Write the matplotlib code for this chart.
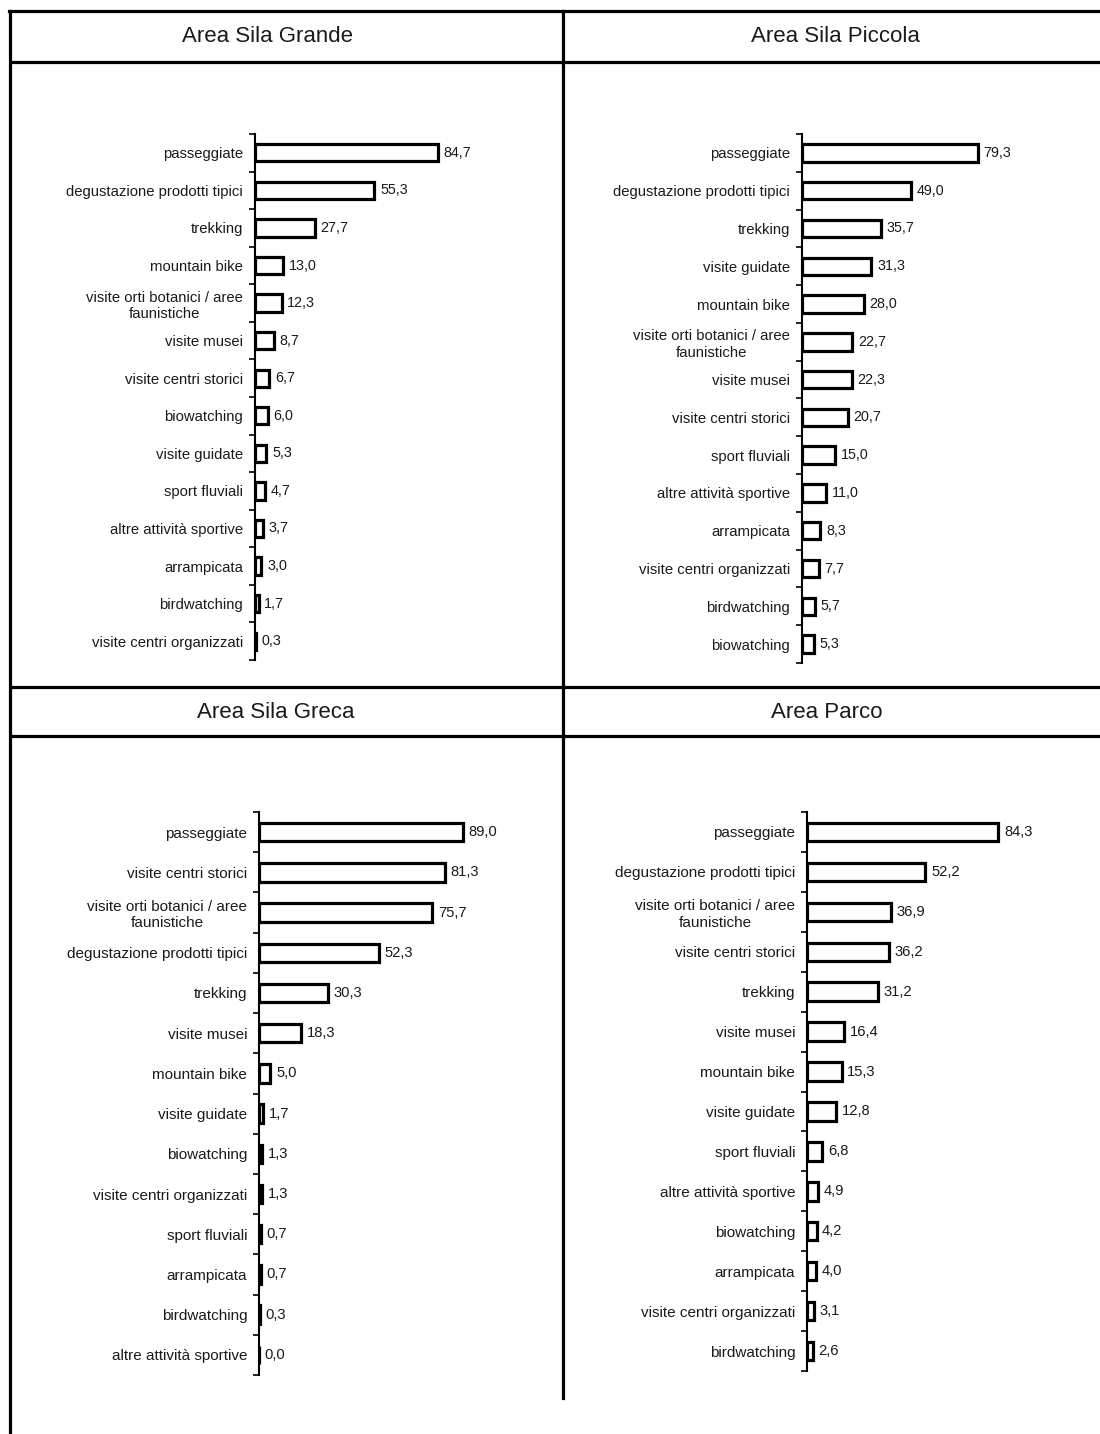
import matplotlib
matplotlib.use("Agg")
import matplotlib.pyplot as plt
import numpy as np

plt.rcParams['font.family'] = ['Liberation Sans', 'DejaVu Sans']

# data
titles = ["Area Sila Grande", "Area Sila Piccola", "Area Sila Greca", "Area Parco"]

orti = "visite orti botanici / aree\nfaunistiche"
degust = "degustazione prodotti tipici"

cats_grande = ["passeggiate", degust, "trekking", "mountain bike", orti,
               "visite musei", "visite centri storici", "biowatching",
               "visite guidate", "sport fluviali", "altre attività sportive",
               "arrampicata", "birdwatching", "visite centri organizzati"]
vals_grande = [84.7, 55.3, 27.7, 13.0, 12.3, 8.7, 6.7, 6.0, 5.3, 4.7, 3.7, 3.0, 1.7, 0.3]

cats_piccola = ["passeggiate", degust, "trekking", "visite guidate", "mountain bike",
                orti, "visite musei", "visite centri storici", "sport fluviali",
                "altre attività sportive", "arrampicata", "visite centri organizzati",
                "birdwatching", "biowatching"]
vals_piccola = [79.3, 49.0, 35.7, 31.3, 28.0, 22.7, 22.3, 20.7, 15.0, 11.0, 8.3, 7.7, 5.7, 5.3]

cats_greca = ["passeggiate", "visite centri storici", orti, degust, "trekking",
              "visite musei", "mountain bike", "visite guidate", "biowatching",
              "visite centri organizzati", "sport fluviali", "arrampicata",
              "birdwatching", "altre attività sportive"]
vals_greca = [89.0, 81.3, 75.7, 52.3, 30.3, 18.3, 5.0, 1.7, 1.3, 1.3, 0.7, 0.7, 0.3, 0.0]

cats_parco = ["passeggiate", degust, orti, "visite centri storici", "trekking",
              "visite musei", "mountain bike", "visite guidate", "sport fluviali",
              "altre attività sportive", "biowatching", "arrampicata",
              "visite centri organizzati", "birdwatching"]
vals_parco = [84.3, 52.2, 36.9, 36.2, 31.2, 16.4, 15.3, 12.8, 6.8, 4.9, 4.2, 4.0, 3.1, 2.6]

W, H = 1100, 1434
fig = plt.figure(figsize=(W / 100, H / 100), dpi=100)

# background axes in pixel coords for the frame lines and titles
bg = fig.add_axes([0, 0, 1, 1])
bg.set_xlim(0, W)
bg.set_ylim(H, 0)
bg.axis("off")
lw = 2.3
bg.plot([9, W], [11, 11], color="black", lw=lw)
bg.plot([9.5, 9.5], [11, H], color="black", lw=lw)
bg.plot([563, 563], [11, 1398], color="black", lw=lw)
for y in [62, 687, 736]:
    bg.plot([13, W], [y, y], color="black", lw=lw)

title_pos = [(268, 37), (835, 37), (276, 712), (827, 712)]
for t, (tx, ty) in zip(titles, title_pos):
    bg.text(tx, ty, t, ha="center", va="center", fontsize=16, color="#1a1a1a")


def px_axes(left, top, right, bottom):
    return fig.add_axes([left / W, 1 - bottom / H, (right - left) / W, (bottom - top) / H])


# (left, top, right, bottom, px per unit, fontsize)
panels = [
    (cats_grande, vals_grande, 255, 134, 545, 660, 2.16, 10.7),
    (cats_piccola, vals_piccola, 802, 134, 1092, 663, 2.22, 10.7),
    (cats_greca, vals_greca, 259, 812, 549, 1375, 2.29, 11.0),
    (cats_parco, vals_parco, 807, 812, 1097, 1371, 2.27, 11.0),
]

for cats, vals, l, t, r, b, ppu, fs in panels:
    ax = px_axes(l, t, r, b)
    y = np.arange(len(cats))
    ax.barh(y, vals, height=0.46, color="white", edgecolor="black", linewidth=2.3)
    ax.set_xlim(0, (r - l) / ppu)
    ax.set_ylim(len(cats) - 0.5, -0.5)
    ax.set_yticks(y)
    ax.set_yticklabels(cats, fontsize=fs, color="#1a1a1a", multialignment="center")
    ax.set_yticks(np.arange(len(cats) + 1) - 0.5, minor=True)
    ax.tick_params(axis="y", which="major", length=0, pad=8.5)
    ax.tick_params(axis="y", which="minor", length=4, width=1.2, direction="out")
    ax.set_xticks([])
    for s in ["top", "right", "bottom"]:
        ax.spines[s].set_visible(False)
    ax.spines["left"].set_linewidth(1.5)
    ax.patch.set_alpha(0)
    for yi, v in zip(y, vals):
        ax.annotate(f"{v:.1f}".replace(".", ","), (v, yi), xytext=(4, 0),
                    textcoords="offset points", ha="left", va="center",
                    fontsize=fs - 0.4, color="#1a1a1a")

fig.savefig("out.png", dpi=100)
